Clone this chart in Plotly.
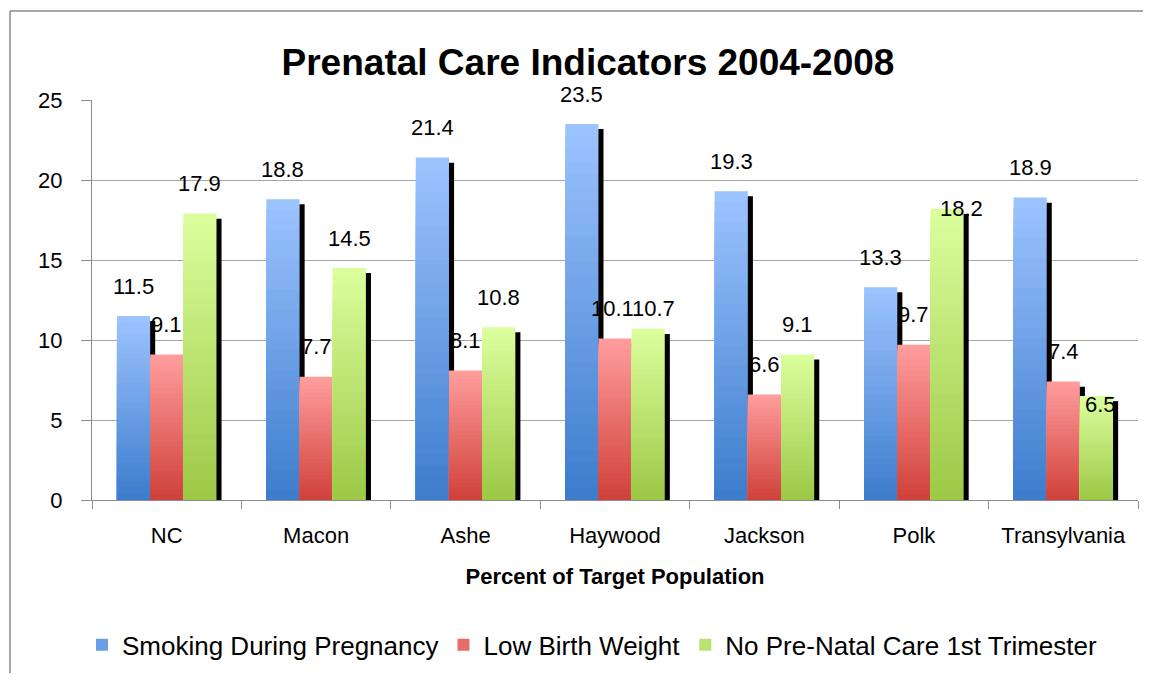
import plotly.graph_objects as go

CATEGORIES = ["NC", "Macon", "Ashe", "Haywood", "Jackson", "Polk", "Transylvania"]
SERIES_NAMES = [
    "Smoking During Pregnancy",
    "Low Birth Weight",
    "No Pre-Natal Care 1st Trimester",
]
SMOKING = [11.5, 18.8, 21.4, 23.5, 19.3, 13.3, 18.9]
LOW_BIRTH_WEIGHT = [9.1, 7.7, 8.1, 10.1, 6.6, 9.7, 7.4]
NO_PRENATAL_CARE = [17.9, 14.5, 10.8, 10.7, 9.1, 18.2, 6.5]
Y_TICKS = [0, 5, 10, 15, 20, 25]

SERIES = [SMOKING, LOW_BIRTH_WEIGHT, NO_PRENATAL_CARE]

# style: (top colour, bottom colour) for the vertical gradient of each series
_GRADIENTS = [
    ((157, 196, 255), (60, 124, 204)),
    ((255, 158, 158), (208, 64, 58)),
    ((220, 255, 158), (156, 200, 70)),
]
_STEPS = 30
_BAR_W = 0.222
_OFFSETS = [-0.333, -0.111, 0.111]
_SHADOW_W = 0.034
_SHADOW_DROP = 0.32
_FONT = "Liberation Sans, Arial, Helvetica, sans-serif"

# the page body has an 8px margin on every side: shrink the figure so the
# page does not scroll, and pull screenshot pixel positions back by 8px
_PAGE_OFF = 8
_W, _H = 1151 - 2 * _PAGE_OFF, 681 - 2 * _PAGE_OFF
_MARGIN = dict(
    l=92 - _PAGE_OFF,
    r=_W - (1138 - _PAGE_OFF),
    t=100 - _PAGE_OFF,
    b=_H - (500 - _PAGE_OFF),
)
_PLOT_W = _W - _MARGIN["l"] - _MARGIN["r"]
_PLOT_H = _H - _MARGIN["t"] - _MARGIN["b"]
_CAT_PX = _PLOT_W / len(CATEGORIES)
_LABEL_LIFT = 30
# a few labels sit elsewhere in the original chart (series index, category)
_LABEL_NUDGE = {
    (1, "Haywood"): (-3, 0),
    (2, "Haywood"): (5, -10),
    (2, "Polk"): (14, -30),
    (2, "Transylvania"): (4, -38),
}


def _blend(c0, c1, t):
    r, g, b = (round(a + (b - a) * t) for a, b in zip(c0, c1))
    return f"rgb({r},{g},{b})"


fig = go.Figure()

for i, (name, vals) in enumerate(zip(SERIES_NAMES, SERIES)):
    top, bottom = _GRADIENTS[i]
    # stacked overlay bars give a stepped top-to-bottom gradient
    for k in range(_STEPS, 0, -1):
        fig.add_trace(
            go.Bar(
                x=CATEGORIES,
                y=[v * k / _STEPS for v in vals],
                width=_BAR_W,
                offset=_OFFSETS[i],
                marker=dict(color=_blend(bottom, top, (k - 0.5) / _STEPS), line_width=0),
                name=name,
                legendgroup=name,
                showlegend=(k == _STEPS // 2),
                hoverinfo="skip",
            )
        )
    # drop shadow to the right of each bar
    fig.add_trace(
        go.Bar(
            x=CATEGORIES,
            y=[v - _SHADOW_DROP for v in vals],
            width=_SHADOW_W,
            offset=_OFFSETS[i] + _BAR_W,
            marker=dict(color="black", line_width=0),
            showlegend=False,
            hoverinfo="skip",
        )
    )

for i, vals in enumerate(SERIES):
    for cat, v in zip(CATEGORIES, vals):
        dx, dy = _LABEL_NUDGE.get((i, cat), (0, 0))
        fig.add_annotation(
            x=cat,
            y=v,
            text=f"{v}",
            showarrow=False,
            xshift=(_OFFSETS[i] + _BAR_W / 2) * _CAT_PX + dx,
            yshift=_LABEL_LIFT + dy,
            yanchor="middle",
            font=dict(size=22, color="black"),
        )

# outer chart frame: only its top and left edges fall inside the picture
_fx0 = (10 - _PAGE_OFF - _MARGIN["l"]) / _PLOT_W
_fy1 = (_MARGIN["t"] + _PLOT_H - (11 - _PAGE_OFF)) / _PLOT_H
_frame = dict(type="line", xref="paper", yref="paper", line=dict(color="#8a8a8a", width=1.5))
fig.add_shape(x0=_fx0, x1=1.1, y0=_fy1, y1=_fy1, **_frame)
fig.add_shape(x0=_fx0, x1=_fx0, y0=-0.6, y1=_fy1, **_frame)

fig.update_layout(
    width=_W,
    height=_H,
    margin=dict(_MARGIN, autoexpand=False),
    barmode="overlay",
    plot_bgcolor="white",
    paper_bgcolor="white",
    font=dict(family=_FONT, size=22, color="black"),
    title=dict(
        text="<b>Prenatal Care Indicators 2004-2008</b>",
        x=(588 - _PAGE_OFF) / _W,
        xanchor="center",
        y=1 - (62 - _PAGE_OFF) / _H,
        yanchor="middle",
        font=dict(size=37, color="black"),
    ),
    legend=dict(
        orientation="h",
        x=0.478,
        xanchor="center",
        y=-0.362,
        yanchor="middle",
        font=dict(size=26),
        bgcolor="rgba(0,0,0,0)",
    ),
    hovermode=False,
    showlegend=True,
)
fig.update_xaxes(
    type="category",
    automargin=False,
    tickson="boundaries",
    ticks="outside",
    ticklen=8,
    tickcolor="#8c8c8c",
    showline=True,
    linecolor="#8c8c8c",
    showgrid=False,
    ticklabelstandoff=16,
    title=dict(text="<b>Percent of Target Population</b>", font=dict(size=22), standoff=21),
)
fig.update_yaxes(
    automargin=False,
    range=[0, 25],
    tickvals=Y_TICKS,
    ticks="outside",
    ticklen=10,
    tickcolor="#8c8c8c",
    showline=True,
    linecolor="#8c8c8c",
    gridcolor="#a6a6a6",
    zeroline=False,
    ticklabelstandoff=14,
)

fig.write_html("out.html")
